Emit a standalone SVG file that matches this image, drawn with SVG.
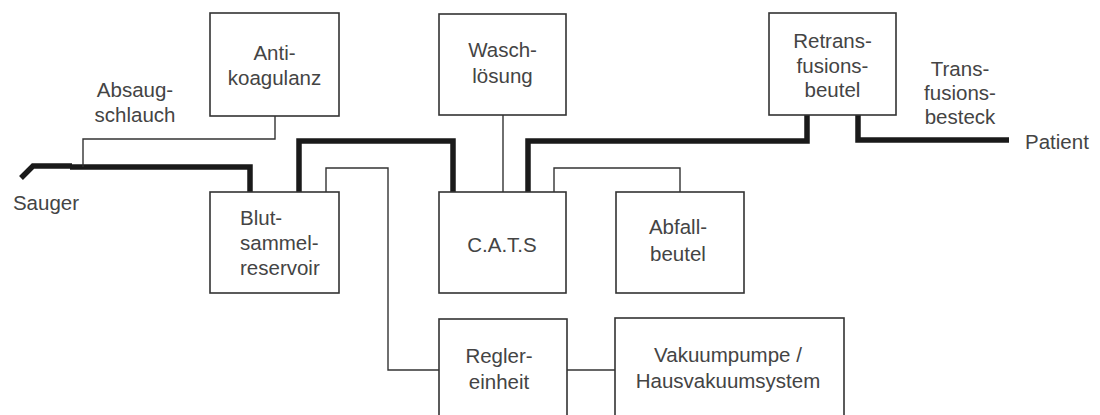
<svg xmlns="http://www.w3.org/2000/svg" width="1100" height="415" viewBox="0 0 1100 415">
<style>
.box{fill:#fff;stroke:#333;stroke-width:1.6}
.t{font-family:"Liberation Sans",Arial,sans-serif;font-size:20.5px;fill:#444;text-anchor:middle}
.l{text-anchor:start}
.thin{fill:none;stroke:#333;stroke-width:1.4}
.thick{fill:none;stroke:#1a1a1a;stroke-width:5.5;stroke-linejoin:miter}
</style>
<rect width="1100" height="415" fill="#fff"/>
<g id="connectors">
<path class="thick" d="M21,178 L33,166 L72,166" stroke-width="7"/>
<path class="thick" d="M70,167 H250 V192"/>
<path class="thin" d="M83,167 V139 H275 V116"/>
<path class="thick" d="M299,192 V141 H453 V192"/>
<path class="thin" d="M326,192 V168 H388 V370 H439"/>
<path class="thin" d="M503,115 V192"/>
<path class="thick" d="M528,192 V141 H807 V115"/>
<path class="thick" d="M858,115 V140 H1009"/>
<path class="thin" d="M554,192 V168 H680 V192"/>
<path class="thin" d="M567,370 H615"/>
</g>
<g id="labels">
<text class="t" x="135" y="97">Absaug-</text>
<text class="t" x="135" y="122">schlauch</text>
<text class="t" x="46" y="210">Sauger</text>
<text class="t" x="960" y="76">Trans-</text>
<text class="t" x="960" y="100">fusions-</text>
<text class="t" x="960" y="124">besteck</text>
<text class="t l" x="1025" y="149">Patient</text>
</g>
<g id="antikoagulanz">
<rect class="box" x="210" y="13" width="129" height="103"/>
<text class="t" x="274.5" y="60">Anti-</text>
<text class="t" x="274.5" y="85">koagulanz</text>
</g>
<g id="blutsammelreservoir">
<rect class="box" x="210" y="192" width="129" height="101"/>
<text class="t l" x="240" y="225">Blut-</text>
<text class="t l" x="240" y="250">sammel-</text>
<text class="t l" x="240" y="275">reservoir</text>
</g>
<g id="waschloesung">
<rect class="box" x="439" y="14" width="127" height="101"/>
<text class="t" x="502.5" y="57">Wasch-</text>
<text class="t" x="502.5" y="83">lösung</text>
</g>
<g id="cats">
<rect class="box" x="439" y="192" width="127" height="101"/>
<text class="t" x="502" y="252">C.A.T.S</text>
</g>
<g id="abfallbeutel">
<rect class="box" x="616" y="192" width="128" height="101"/>
<text class="t" x="678" y="234">Abfall-</text>
<text class="t" x="678" y="261">beutel</text>
</g>
<g id="retransfusionsbeutel">
<rect class="box" x="769" y="13" width="127" height="102"/>
<text class="t" x="832.5" y="48">Retrans-</text>
<text class="t" x="832.5" y="73">fusions-</text>
<text class="t" x="832.5" y="97">beutel</text>
</g>
<g id="reglereinheit">
<rect class="box" x="439" y="319" width="128" height="110"/>
<text class="t" x="499" y="363">Regler-</text>
<text class="t" x="499" y="389">einheit</text>
</g>
<g id="vakuumpumpe">
<rect class="box" x="615" y="318" width="229" height="110"/>
<text class="t" x="728" y="362">Vakuumpumpe /</text>
<text class="t" x="728" y="388">Hausvakuumsystem</text>
</g>
</svg>
